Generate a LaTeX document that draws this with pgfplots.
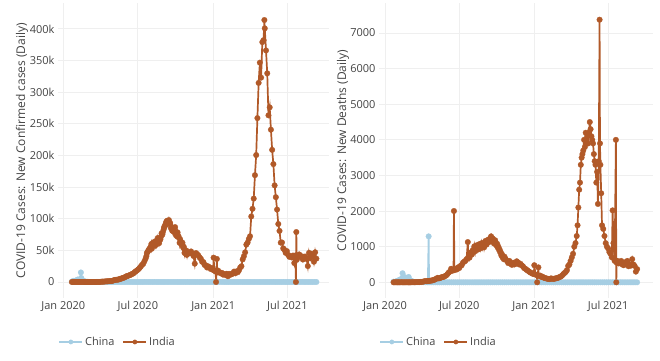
\documentclass[border=0pt]{standalone}
\usepackage{pgfplots}
\pgfplotsset{compat=1.18}
\usepackage{fontspec}
\setmainfont{Open Sans}
\definecolor{china}{HTML}{A6CEE3}
\definecolor{india}{HTML}{B15928}
\definecolor{txt}{HTML}{444444}
\definecolor{gridc}{HTML}{EFEFEF}
\pgfplotsset{
  covid/.style={
    scale only axis, anchor=south west,
    axis line style={draw=none},
    major tick length=0pt,
    xmajorgrids, ymajorgrids,
    major grid style={draw=gridc, line width=1pt},
    tick label style={font=\fontsize{11}{13}\selectfont, text=txt},
    label style={font=\fontsize{12}{14}\selectfont, text=txt},
    xtick={0,182,366,547},
    xticklabels={Jan 2020,Jul 2020,Jan 2021,Jul 2021},
    clip=false,
    legend columns=2,
    legend style={draw=none, fill=none, font=\fontsize{11}{13}\selectfont, text=txt,
      /tikz/every even column/.append style={column sep=6pt}},
    legend image code/.code={\draw[mark repeat=2,mark phase=2,#1,mark size=2.2pt] plot coordinates {(0pt,0pt) (11.5pt,0pt) (23pt,0pt)};},
  },
  chn/.style={color=china, line width=1.7pt, mark=*, mark size=2.8pt, mark options={solid, line width=0.3pt}},
  ind/.style={color=india, line width=1.7pt, mark=*, mark size=2.8pt, mark options={solid, line width=0.3pt}},
}
\begin{document}
\begin{tikzpicture}
\path[use as bounding box] (0,0) rectangle (660pt,360pt);
% ---------------- Left: cases
\begin{axis}[covid, at={(58pt,62pt)}, width=271pt, height=295pt,
  xmin=-12.9, xmax=648.8, ymin=-25300, ymax=441100,
  ytick={0,50000,100000,150000,200000,250000,300000,350000,400000},
  yticklabels={0,50k,100k,150k,200k,250k,300k,350k,400k},
  ylabel={COVID-19 Cases: New Confirmed cases (Daily)},
  ylabel style={at={(axis description cs:-0.133,0.5)}, anchor=center, rotate=0},
  legend style={at={(axis description cs:-0.01,-0.149)}, anchor=west}]
\addplot[chn] coordinates {
(21,550)(23,690)(25,1800)(27,1700)(29,2000)(31,2100)(33,2600)(35,3900)(37,3700)(39,3100)(41,2500)(43,15100)(44,6400)(45,2100)(47,2000)(49,1750)(51,390)(53,890)(55,400)(57,200)(59,430)(61,200)(63,120)(65,40)(67,20)(70,30)(74,40)(78,60)(82,50)(86,40)(90,40)(94,60)(98,90)(102,80)(106,30)(110,20)(114,10)(118,5)
(123,4)(128,3)(133,5)(138,6)(143,8)(148,10)(153,5)(158,20)(163,40)(168,30)(173,20)(178,15)(183,5)(188,10)(193,20)(198,30)(203,40)(208,30)(213,40)(218,20)(223,15)(228,10)(233,10)(238,15)(243,10)(248,10)(253,10)(258,15)(263,10)(268,20)(273,15)(278,10)(283,15)(288,15)(293,20)(298,30)(303,15)(308,20)(313,15)(318,20)(323,15)(328,10)(333,15)(338,20)(343,15)(348,20)(353,20)(358,25)(363,30)(368,40)(373,80)(378,100)(383,120)(388,90)(393,60)(398,30)(403,15)(408,10)(413,10)(418,10)(423,10)(428,10)(433,10)(438,10)(443,15)(448,15)(453,15)(458,15)(463,20)(468,15)(473,10)(478,15)(483,10)(488,20)(493,15)(498,15)(503,20)(508,30)(513,30)(518,30)(523,20)(528,25)(533,25)(538,30)(543,25)(548,25)(553,30)(558,40)(563,50)(568,60)(573,70)(578,80)(583,70)(588,50)(593,40)(598,35)(603,30)(608,40)(613,50)(618,40)};
\addlegendentry{China}
\addplot[ind] coordinates {
(21,0)(24,0)(27,0)(30,1)(33,0)(36,0)(39,0)(42,0)(45,0)(48,0)(51,0)(54,0)(57,0)(60,2)(63,23)(66,3)(69,12)(72,14)(75,17)(78,50)(81,70)(84,90)(87,110)(90,230)(93,500)(96,600)(99,560)(102,900)(105,1000)(108,1100)(111,1300)(114,1400)(117,1600)(120,1800)(123,2700)(126,3300)(129,3600)(132,3700)(135,3900)(138,4900)(141,5100)(144,6200)(147,6700)(150,7300)(153,8800)(156,9300)(159,9900)(162,11000)(165,11500)(168,12800)(171,13500)(174,15400)(177,16900)(180,18300)(183,20000)(186,22000)(189,24200)(192,27000)(195,28600)(198,32600)(201,37100)(203,41000)(204,45700)(206,47500)(207,48900)(209,51000)(210,52000)(212,54000)(213,55000)(215,60000)(216,52500)(218,57000)(219,62000)(221,58000)(222,61000)(224,57500)(225,64500)(227,59000)(228,63500)(230,66000)(231,69600)(233,64000)(234,61400)(236,69000)(237,67000)(239,72000)(240,77000)(242,75000)(243,78500)(245,83000)(246,86400)(248,88000)(249,90600)(251,94000)(252,95700)(254,97000)(255,92000)(257,94500)(258,97800)(260,92000)(261,93300)(263,85000)(264,86900)(266,81000)(267,86000)(269,80000)(270,82000)(272,79000)(273,86800)(275,74000)(276,75800)(278,72000)(279,78500)(281,73000)(282,70500)(284,62000)(285,67700)(287,61000)(288,63400)(290,58000)(291,62000)(293,54000)(294,55800)(296,46000)(297,50100)(299,45000)(300,49900)(302,43000)(303,47600)(306,46200)(309,45600)(312,48300)(315,44800)(318,41100)(321,29000)(324,45800)(327,44000)(330,41800)(333,38700)(336,36600)(339,32000)(342,31500)(345,27000)(348,26400)(351,22900)(354,24700)(357,23000)(360,20500)(363,21800)(366,19000)(367,38500)(369,18200)(372,16400)(373,0)(375,36500)(376,15100)(378,18000)(381,15400)(384,13800)(387,14500)(390,11700)(393,12700)(396,11000)(399,13000)(402,9100)(405,12900)(408,11600)(411,12200)(414,13900)(417,16500)(420,13700)(423,16800)(426,15500)(429,18600)(432,22900)(435,24900)(438,35800)(441,40700)(444,46900)(447,59100)(450,62300)(453,68000)(456,72300)(459,103600)(462,115700)(465,131900)(468,168900)(471,200700)(474,259100)(477,314800)(480,346800)(483,323100)(486,379300)(489,382300)(491,414200)(492,401000)(495,366100)(498,329900)(501,263500)(504,276100)(507,240800)(510,208900)(513,186400)(516,152700)(519,134100)(522,114500)(525,91700)(528,80800)(531,62200)(534,62500)(537,53200)(540,50800)(543,46100)(546,48800)(549,43000)(552,39800)(555,40700)(558,38800)(561,41800)(564,30000)(567,42000)(568,0)(569,79000)(570,35000)(573,39700)(576,43600)(579,41800)(582,38600)(585,35500)(588,40100)(591,40100)(594,36400)(597,25200)(600,46100)(603,37600)(606,44700)(609,42600)(612,32000)(615,47000)(618,37000)};
\addlegendentry{India}
\end{axis}
% ---------------- Right: deaths
\begin{axis}[covid, at={(379pt,62pt)}, width=274pt, height=295pt,
  xmin=-14.7, xmax=657, ymin=-441, ymax=7843,
  ytick={0,1000,2000,3000,4000,5000,6000,7000},
  yticklabels={0,1000,2000,3000,4000,5000,6000,7000},
  ylabel={COVID-19 Cases: New Deaths (Daily)},
  ylabel style={at={(axis description cs:-0.131,0.5)}, anchor=center, rotate=0},
  legend style={at={(axis description cs:-0.01,-0.149)}, anchor=west}]
\addplot[chn] coordinates {
(21,17)(23,8)(25,15)(27,24)(29,26)(31,43)(33,45)(35,65)(37,73)(39,86)(41,97)(42,108)(43,254)(44,143)(46,142)(48,139)(50,136)(52,98)(54,108)(56,97)(58,150)(60,71)(62,52)(64,28)(66,31)(68,22)(70,11)(75,10)(80,6)(85,3)(90,4)(95,2)(100,1)(105,0)(107,1290)(108,0)
(113,0)(118,0)(123,0)(128,0)(133,0)(138,0)(143,0)(148,0)(153,0)(158,0)(163,0)(168,0)(173,0)(178,0)(183,0)(188,0)(193,0)(198,0)(203,0)(208,0)(213,0)(218,0)(223,0)(228,0)(233,0)(238,0)(243,0)(248,0)(253,0)(258,0)(263,0)(268,0)(273,0)(278,0)(283,0)(288,0)(293,0)(298,0)(303,0)(308,0)(313,0)(318,0)(323,0)(328,0)(333,0)(338,0)(343,0)(348,0)(353,0)(358,0)(363,0)(368,0)(373,1)(378,0)(383,0)(388,1)(393,0)(398,0)(403,0)(408,0)(413,0)(418,0)(423,0)(428,0)(433,0)(438,0)(443,0)(448,0)(453,0)(458,0)(463,0)(468,0)(473,0)(478,0)(483,0)(488,0)(493,0)(498,0)(503,0)(508,0)(513,0)(518,0)(523,0)(528,0)(533,0)(538,0)(543,0)(548,0)(553,0)(558,0)(563,0)(568,0)(573,0)(578,0)(583,0)(588,0)(593,0)(598,0)(603,0)(608,0)(613,0)(618,0)};
\addlegendentry{China}
\addplot[ind] coordinates {
(21,0)(24,0)(27,0)(30,0)(33,0)(36,0)(39,0)(42,0)(45,0)(48,0)(51,0)(54,0)(57,0)(60,0)(63,0)(66,1)(69,2)(72,1)(75,3)(78,5)(81,4)(84,6)(87,10)(90,12)(93,17)(96,27)(99,35)(102,30)(105,33)(108,40)(111,45)(114,50)(117,56)(120,72)(123,80)(126,104)(129,125)(132,110)(135,120)(138,140)(141,146)(144,154)(147,175)(150,194)(153,230)(156,271)(159,298)(162,380)(165,325)(168,340)(169,2003)(170,341)(173,375)(176,360)(179,420)(182,400)(185,460)(188,480)(191,550)(194,580)(197,600)(200,650)(203,1130)(204,700)(206,760)(207,690)(209,780)(210,830)(212,850)(213,780)(215,900)(216,850)(218,930)(219,1010)(221,870)(222,950)(224,950)(225,1040)(227,1000)(228,920)(230,980)(231,1070)(233,1060)(234,950)(236,1030)(237,1100)(239,1000)(240,1090)(242,1060)(243,980)(245,1100)(246,1160)(248,1130)(249,1060)(251,1120)(252,1190)(254,1200)(255,1130)(257,1180)(258,1240)(260,1290)(261,1160)(263,1150)(264,1230)(266,1180)(267,1090)(269,1140)(270,1180)(272,1100)(273,1040)(275,1080)(276,980)(278,1000)(279,920)(281,920)(282,850)(284,840)(285,760)(287,780)(288,700)(290,700)(291,650)(293,720)(296,650)(299,600)(302,540)(305,600)(308,520)(311,490)(314,550)(317,500)(320,520)(323,590)(326,560)(329,500)(332,520)(335,480)(338,450)(341,400)(344,380)(347,350)(350,330)(353,300)(356,280)(359,260)(362,240)(365,230)(366,480)(369,220)(372,200)(373,0)(376,420)(377,180)(380,190)(383,150)(386,160)(389,130)(392,120)(395,110)(398,100)(401,95)(404,90)(407,110)(410,100)(413,95)(416,105)(419,110)(422,120)(425,130)(428,150)(431,160)(434,190)(437,230)(440,260)(443,290)(446,340)(449,460)(452,500)(455,600)(458,700)(461,800)(464,1000)(467,1100)(470,1300)(472,1600)(474,2100)(476,2600)(478,2800)(480,3300)(482,3500)(484,3600)(486,3700)(488,4000)(490,3800)(492,4200)(494,3900)(496,4100)(498,3900)(500,4200)(502,4500)(504,4300)(506,4100)(508,4000)(510,3900)(512,3600)(514,3400)(516,3300)(518,2800)(520,3100)(522,2200)(524,3400)(526,7374)(527,3900)(528,3300)(530,2500)(532,1600)(535,1500)(538,1300)(541,1100)(544,1000)(547,950)(550,850)(553,800)(556,700)(558,2020)(560,1100)(563,600)(566,4000)(567,0)(568,550)(570,600)(573,530)(576,550)(579,600)(582,500)(585,480)(588,560)(591,520)(594,600)(597,450)(600,500)(603,470)(606,650)(609,500)(612,460)(615,300)(618,370)};
\addlegendentry{India}
\end{axis}
\end{tikzpicture}
\end{document}
